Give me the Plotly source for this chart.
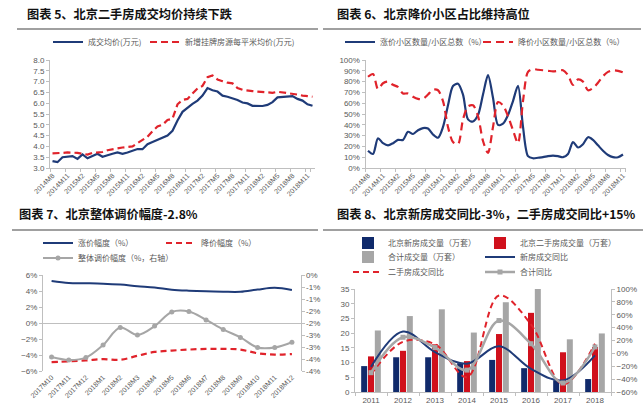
import plotly.graph_objects as go

# ---------------- data ----------------
months5 = ["2014M8", "2014M9", "2014M10", "2014M11", "2014M12",
           "2015M1", "2015M2", "2015M3", "2015M4", "2015M5", "2015M6",
           "2015M7", "2015M8", "2015M9", "2015M10", "2015M11", "2015M12",
           "2016M1", "2016M2", "2016M3", "2016M4", "2016M5", "2016M6",
           "2016M7", "2016M8", "2016M9", "2016M10", "2016M11", "2016M12",
           "2017M1", "2017M2", "2017M3", "2017M4", "2017M5", "2017M6",
           "2017M7", "2017M8", "2017M9", "2017M10", "2017M11", "2017M12",
           "2018M1", "2018M2", "2018M3", "2018M4", "2018M5", "2018M6",
           "2018M7", "2018M8", "2018M9", "2018M10", "2018M11", "2018M12"]

deal_price = [3.32, 3.27, 3.50, 3.53, 3.55, 3.42, 3.63, 3.45, 3.57, 3.66,
              3.52, 3.60, 3.66, 3.72, 3.66, 3.72, 3.80, 3.88, 3.87, 4.10,
              4.20, 4.30, 4.37, 4.50, 4.72, 5.20, 5.60, 5.80, 5.97, 6.12,
              6.35, 6.70, 6.60, 6.54, 6.35, 6.30, 6.23, 6.15, 6.03, 5.99,
              5.88, 5.87, 5.87, 5.92, 6.05, 6.27, 6.28, 6.32, 6.33, 6.20,
              6.12, 5.95, 5.88]

listing_price = [3.68, 3.68, 3.70, 3.72, 3.72, 3.70, 3.66, 3.62, 3.70, 3.73,
                 3.74, 3.82, 3.87, 3.90, 3.95, 3.97, 4.00, 4.15, 4.30, 4.45,
                 4.70, 4.92, 5.00, 5.22, 5.28, 5.95, 6.15, 6.20, 6.45, 6.68,
                 6.80, 7.20, 7.28, 7.10, 7.02, 6.95, 6.92, 6.70, 6.62, 6.58,
                 6.56, 6.54, 6.52, 6.50, 6.48, 6.53, 6.50, 6.47, 6.45, 6.40,
                 6.35, 6.32, 6.30]

months6 = months5[:52]

rise_share = [16, 13, 27.5, 23, 21, 23, 26, 26, 33.5, 31.5,
              35, 37, 36.5, 31, 28, 38, 58, 76, 78, 68,
              45, 43, 49, 68, 86, 65, 40, 41, 49, 62,
              76, 38, 11, 9, 9.5, 10, 11, 11.5, 11, 10,
              13, 24, 19, 22, 28.5, 26, 21, 16, 12, 10,
              10, 12.5]

fall_share = [84.5, 87, 73, 78.5, 80, 77, 75, 69, 69, 66,
              64, 64, 68, 72.5, 72, 62, 38, 24, 22, 45,
              57, 58, 48, 25, 14, 38, 61, 58, 48, 35,
              23, 62, 89, 91.5, 91, 90.5, 90, 89.5, 90, 90.5,
              86, 77, 82, 80, 72, 74, 79, 85, 89, 90.5,
              90, 88.5]

months7 = ["2017M10", "2017M11", "2017M12", "2018M1", "2018M2", "2018M3",
           "2018M4", "2018M5", "2018M6", "2018M7", "2018M8", "2018M9",
           "2018M10", "2018M11", "2018M12"]
rise_pct = [5.25, 5.0, 4.97, 4.92, 4.8, 4.6, 4.43, 4.17, 4.04, 3.96, 3.91, 3.9, 4.18, 4.4, 4.12]
fall_pct = [-4.9, -4.8, -4.68, -4.52, -4.6, -4.1, -3.62, -3.45, -3.32, -3.24, -3.24, -3.32, -3.78, -3.95, -3.88]
overall_pct = [-3.42, -3.54, -3.44, -2.92, -2.19, -2.5, -2.13, -1.54, -1.52, -1.87, -2.27, -2.6, -3.02, -3.02, -2.8]
right7_vals = [0, -0.5, -1, -1.5, -2, -2.5, -3, -3.5, -4]
right7_text = ["0%", "-1%", "-1%", "-2%", "-2%", "-3%", "-3%", "-4%", "-4%"]

years = ["2011", "2012", "2013", "2014", "2015", "2016", "2017", "2018"]
new_vol = [8.8, 11.8, 11.8, 9.8, 10.9, 8.1, 4.0, 4.4]
second_vol = [12.1, 14.0, 16.2, 10.5, 19.7, 26.9, 13.5, 15.3]
total_vol = [20.9, 25.8, 28.1, 20.2, 30.5, 35.0, 17.9, 19.9]
new_yoy = [-21, 34, 2, -16, 11, -24, -42, -3]
second_yoy = [-33, 18, 14, -37, 90, 45, -48, 15]
total_yoy = [-30, 25, 9, -26, 51, 15, -46, 10]

titles = ["图表 5、北京二手房成交均价持续下跌",
          "图表 6、北京降价小区占比维持高位",
          "图表 7、北京整体调价幅度-2.8%",
          "图表 8、北京新房成交同比-3%，二手房成交同比+15%"]

# ---------------- style ----------------
W, H = 643, 411
NAVY = "#1f3b78"
NAVYBAR = "#102a6b"
RED = "#e0232b"
REDBAR = "#d0101c"
GRAY = "#a6a6a6"
TXT = "#595959"
AX = "#bfbfbf"
FONT = "Liberation Sans, Noto Sans CJK SC, sans-serif"
CJK = "Noto Sans CJK SC, sans-serif"


def fx(p):
    return p / W


def fy(p):
    return 1 - p / H


# legend slot per trace: (sample start x, row centre y) in pixels
legend_slots = {
    "legend": (60, 42), "legend2": (157, 42),
    "legend3": (352, 42), "legend4": (490, 42),
    "legend5": (50, 243), "legend6": (173, 243), "legend7": (50, 258),
    "legend8": (360, 243), "legend9": (492, 243),
    "legend10": (360, 257), "legend11": (492, 257),
    "legend12": (360, 272), "legend13": (492, 272),
}

fig = go.Figure()

# chart 5
fig.add_trace(go.Scatter(x=months5, y=deal_price, name="成交均价(万元)", mode="lines",
                         line=dict(color=NAVY, width=2.2), xaxis="x", yaxis="y", legend="legend"))
fig.add_trace(go.Scatter(x=months5, y=listing_price, name="新增挂牌房源每平米均价(万元)", mode="lines",
                         line=dict(color=RED, width=2.2, dash="7px,4px"), xaxis="x", yaxis="y", legend="legend2"))

# chart 6
fig.add_trace(go.Scatter(x=months6, y=rise_share, name="涨价小区数量/小区总数（%）", mode="lines",
                         line=dict(color=NAVY, width=2.2, shape="spline", smoothing=0.8),
                         xaxis="x2", yaxis="y2", legend="legend3"))
fig.add_trace(go.Scatter(x=months6, y=fall_share, name="降价小区数量/小区总数（%）", mode="lines",
                         line=dict(color=RED, width=2.2, dash="8px,5px", shape="spline", smoothing=0.8),
                         xaxis="x2", yaxis="y2", legend="legend4"))

# chart 7
fig.add_trace(go.Scatter(x=months7, y=rise_pct, name="涨价幅度（%）", mode="lines",
                         line=dict(color=NAVY, width=2, shape="spline"),
                         xaxis="x3", yaxis="y3", legend="legend5"))
fig.add_trace(go.Scatter(x=months7, y=fall_pct, name="降价幅度（%）", mode="lines",
                         line=dict(color=RED, width=2.2, dash="6px,4px", shape="spline"),
                         xaxis="x3", yaxis="y3", legend="legend6"))
fig.add_trace(go.Scatter(x=months7, y=overall_pct, name="整体调价幅度（%，右轴）", mode="lines+markers",
                         line=dict(color=GRAY, width=2, shape="spline"),
                         marker=dict(color=GRAY, size=5, symbol="circle"),
                         xaxis="x3", yaxis="y4", legend="legend7"))

# chart 8
fig.add_trace(go.Bar(x=years, y=new_vol, name="北京新房成交量（万套）", marker=dict(color=NAVYBAR, line=dict(width=0)),
                     xaxis="x4", yaxis="y5", legend="legend8"))
fig.add_trace(go.Bar(x=years, y=second_vol, name="北京二手房成交量（万套）", marker=dict(color=REDBAR, line=dict(width=0)),
                     xaxis="x4", yaxis="y5", legend="legend9"))
fig.add_trace(go.Bar(x=years, y=total_vol, name="合计成交量（万套）", marker=dict(color=GRAY, line=dict(width=0)),
                     xaxis="x4", yaxis="y5", legend="legend10"))
fig.add_trace(go.Scatter(x=years, y=new_yoy, name="新房成交同比", mode="lines",
                         line=dict(color=NAVY, width=2, shape="spline"),
                         xaxis="x4", yaxis="y6", legend="legend11"))
fig.add_trace(go.Scatter(x=years, y=second_yoy, name="二手房成交同比", mode="lines",
                         line=dict(color=RED, width=2, dash="6px,4px", shape="spline"),
                         xaxis="x4", yaxis="y6", legend="legend12"))
fig.add_trace(go.Scatter(x=years, y=total_yoy, name="合计同比", mode="lines+markers",
                         line=dict(color=GRAY, width=2.5, shape="spline"),
                         marker=dict(color=GRAY, size=5, symbol="square"),
                         xaxis="x4", yaxis="y6", legend="legend13"))

tick_small = dict(family=FONT, size=7, color=TXT)
tick_mid = dict(family=FONT, size=8, color=TXT)

common_x = dict(showgrid=False, zeroline=False, type="category", fixedrange=True, automargin=False,
                ticks="outside", ticklen=3, tickcolor=AX, tickson="boundaries")
common_y = dict(showgrid=False, zeroline=False, fixedrange=True, automargin=False,
                ticks="outside", ticklen=3, tickcolor=AX)

legends = {}
for key, (sx, sy) in legend_slots.items():
    legends[key] = dict(x=fx(sx - 12), y=fy(sy), xanchor="left", yanchor="middle", orientation="h",
                        font=dict(family=CJK, size=8, color=TXT), bgcolor="rgba(0,0,0,0)",
                        itemwidth=30, tracegroupgap=0, borderwidth=0)

fig.update_layout(
    template="none",
    width=W, height=H, autosize=False,
    margin=dict(l=0, r=0, t=0, b=0, autoexpand=False),
    paper_bgcolor="white", plot_bgcolor="white",
    font=dict(family=FONT, color=TXT, size=8),
    barmode="group", bargap=0.36, bargroupgap=0.12,
    showlegend=True,
    xaxis=dict(common_x, domain=[fx(50), fx(315)], anchor="y", range=[-0.5, 52.5],
               tickvals=months5[::3], tickangle=-45, tickfont=tick_small,
               showline=True, linecolor=AX, linewidth=1),
    yaxis=dict(common_y, domain=[fy(168), fy(60)], anchor="x", range=[3, 8], dtick=0.5,
               tickformat=".1f", tickfont=tick_mid, showline=True, linecolor=AX, linewidth=1),
    xaxis2=dict(common_x, domain=[fx(365.5), fx(625.5)], anchor="y2", range=[-0.5, 51.5],
                tickvals=months6[::3], tickangle=-45, tickfont=tick_small,
                showline=True, linecolor=AX, linewidth=1),
    yaxis2=dict(common_y, domain=[fy(168), fy(60)], anchor="x2", range=[0, 100], dtick=10,
                ticksuffix="%", tickfont=tick_mid, showline=True, linecolor=AX, linewidth=1),
    xaxis3=dict(common_x, domain=[fx(43), fx(300.5)], anchor="y3", range=[-0.5, 14.5],
                tickangle=-45, tickfont=tick_small, showline=False, ticks=""),
    yaxis3=dict(common_y, domain=[fy(371), fy(275)], anchor="x3", range=[-6, 6], dtick=2,
                ticksuffix="%", tickfont=tick_mid, showline=True, linecolor=AX, linewidth=1,
                zeroline=True, zerolinecolor=AX, zerolinewidth=1),
    yaxis4=dict(common_y, overlaying="y3", side="right", anchor="x3", range=[-4, 0],
                tickvals=right7_vals, ticktext=right7_text, tickfont=tick_mid,
                showline=True, linecolor=AX, linewidth=1),
    xaxis4=dict(common_x, domain=[fx(355), fx(611)], anchor="y5", range=[-0.5, 7.5],
                tickfont=tick_mid, showline=True, linecolor=AX, linewidth=1),
    yaxis5=dict(common_y, domain=[fy(392), fy(289)], anchor="x4", range=[0, 35], dtick=5,
                tickfont=tick_mid, showline=True, linecolor=AX, linewidth=1),
    yaxis6=dict(common_y, overlaying="y5", side="right", anchor="x4", range=[-60, 100], dtick=20,
                ticksuffix="%", tickfont=tick_mid, showline=True, linecolor=AX, linewidth=1),
    **legends,
)

title_pos = [(25, 13.5), (335, 13.5), (17, 214), (335, 214)]
for t, (x, y) in zip(titles, title_pos):
    fig.add_annotation(text=t, x=fx(x), y=fy(y), xref="paper", yref="paper",
                       xanchor="left", yanchor="middle", showarrow=False,
                       font=dict(family=CJK, size=12.2, color="#111111", weight="bold"))

rules = [(17, 318, 29), (323, 641, 29), (12, 318, 230), (323, 643, 230)]
for x0, x1, y in rules:
    fig.add_shape(type="line", xref="paper", yref="paper", x0=fx(x0), x1=fx(x1), y0=fy(y), y1=fy(y),
                  line=dict(color="#808080", width=1.5))

fig.write_html("out.html", config={"displayModeBar": False, "staticPlot": True},
               post_script="document.body.style.margin='0px';document.body.style.overflow='hidden';")
